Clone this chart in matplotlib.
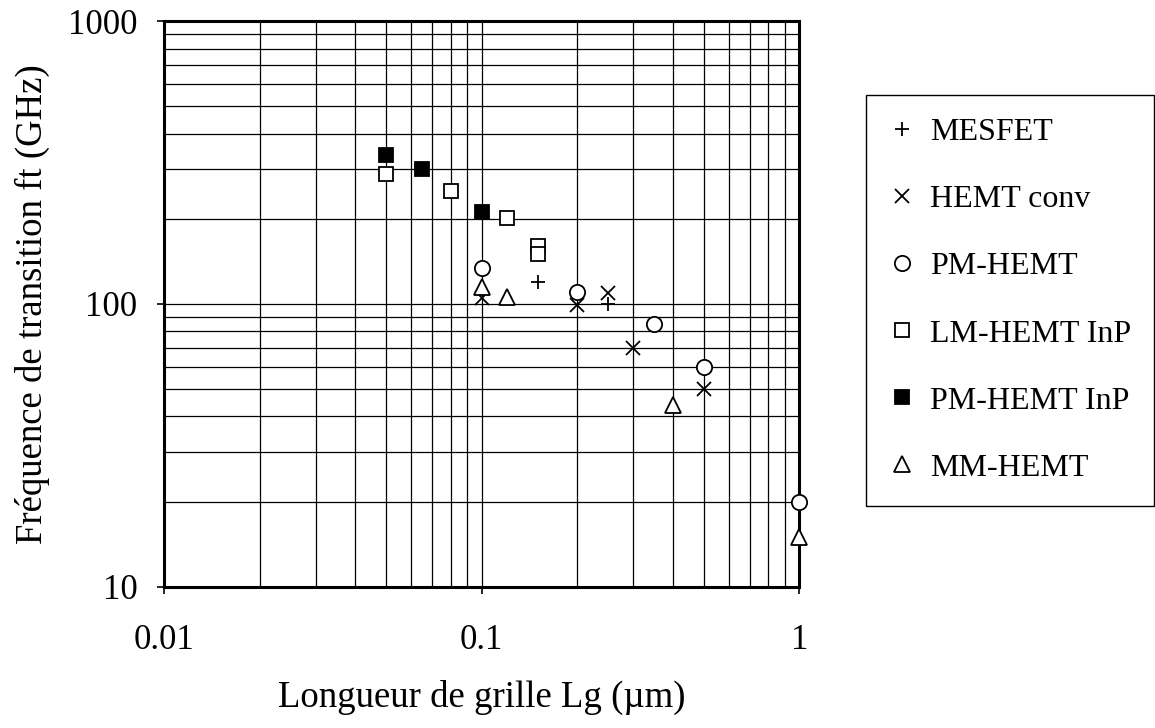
import matplotlib.pyplot as plt
from matplotlib.ticker import FixedLocator, FixedFormatter, NullFormatter, LogLocator

plt.rcParams['font.family'] = ['Liberation Serif', 'DejaVu Serif']

# data
mesfet_x = [0.15, 0.25]
mesfet_y = [120, 100]
hemt_x = [0.1, 0.2, 0.25, 0.3, 0.5]
hemt_y = [105, 99, 109, 70, 50]
pm_x = [0.1, 0.2, 0.35, 0.5, 1.0]
pm_y = [134, 110, 85, 60, 20]
lm_inp_x = [0.05, 0.08, 0.12, 0.15, 0.15]
lm_inp_y = [287, 251, 201, 160, 150]
pm_inp_x = [0.05, 0.065, 0.1]
pm_inp_y = [336, 300, 212]
mm_x = [0.1, 0.12, 0.4, 1.0]
mm_y = [115, 106, 44, 15]

x_ticks = [0.01, 0.1, 1]
x_labels = ['0.01', '0.1', '1']
y_ticks = [10, 100, 1000]
y_labels = ['10', '100', '1000']

fig = plt.figure(figsize=(11.55, 7.28), dpi=100)
ax = fig.add_axes([0.142, 0.194, 0.550, 0.777])
ax.set_xscale('log')
ax.set_yscale('log')
ax.set_xlim(0.01, 1)
ax.set_ylim(10, 1000)

common = dict(linestyle='none', markeredgecolor='black', markeredgewidth=1.3, clip_on=False, zorder=5)
ax.plot(mesfet_x, mesfet_y, marker='+', color='black', markersize=10, label='MESFET', **common)
ax.plot(hemt_x, hemt_y, marker='x', color='black', markersize=10.5, label='HEMT conv', **common)
ax.plot(pm_x, pm_y, marker='o', markerfacecolor='white', markersize=11, label='PM-HEMT', **common)
ax.plot(lm_inp_x, lm_inp_y, marker='s', markerfacecolor='white', markersize=10, label='LM-HEMT InP', **common)
ax.plot(pm_inp_x, pm_inp_y, marker='s', markerfacecolor='black', markersize=10, label='PM-HEMT InP', **common)
ax.plot(mm_x, mm_y, marker='^', markerfacecolor='white', markersize=11, label='MM-HEMT', **common)

ax.xaxis.set_major_locator(FixedLocator(x_ticks))
ax.xaxis.set_major_formatter(FixedFormatter(x_labels))
ax.yaxis.set_major_locator(FixedLocator(y_ticks))
ax.yaxis.set_major_formatter(FixedFormatter(y_labels))
ax.xaxis.set_minor_locator(LogLocator(base=10, subs=range(2, 10)))
ax.yaxis.set_minor_locator(LogLocator(base=10, subs=range(2, 10)))
ax.xaxis.set_minor_formatter(NullFormatter())
ax.yaxis.set_minor_formatter(NullFormatter())

ax.grid(True, which='both', color='black', linewidth=0.9)
ax.set_axisbelow(True)
ax.tick_params(which='major', direction='out', length=5, width=1.2, labelsize=25)
ax.tick_params(axis='x', which='major', pad=22)
ax.tick_params(axis='y', which='major', pad=14)
ax.tick_params(which='minor', length=0)
for s in ax.spines.values():
    s.set_linewidth(2.2)

ax.set_xlabel('Longueur de grille Lg (µm)', fontsize=26.5, labelpad=16)
ax.set_ylabel('Fréquence de transition ft (GHz)', fontsize=26.5, labelpad=13)

leg = ax.legend(loc='upper left', bbox_to_anchor=(866 / 1155, 1 - 95 / 728),
                bbox_transform=fig.transFigure, borderaxespad=0, fontsize=23, frameon=True,
                fancybox=False, edgecolor='black', framealpha=1, numpoints=1,
                handlelength=0.82, handletextpad=0.47, labelspacing=1.18,
                borderpad=0.72, markerscale=1.0)
leg.get_frame().set_linewidth(1.0)

fig.savefig('out.png', dpi=100)
